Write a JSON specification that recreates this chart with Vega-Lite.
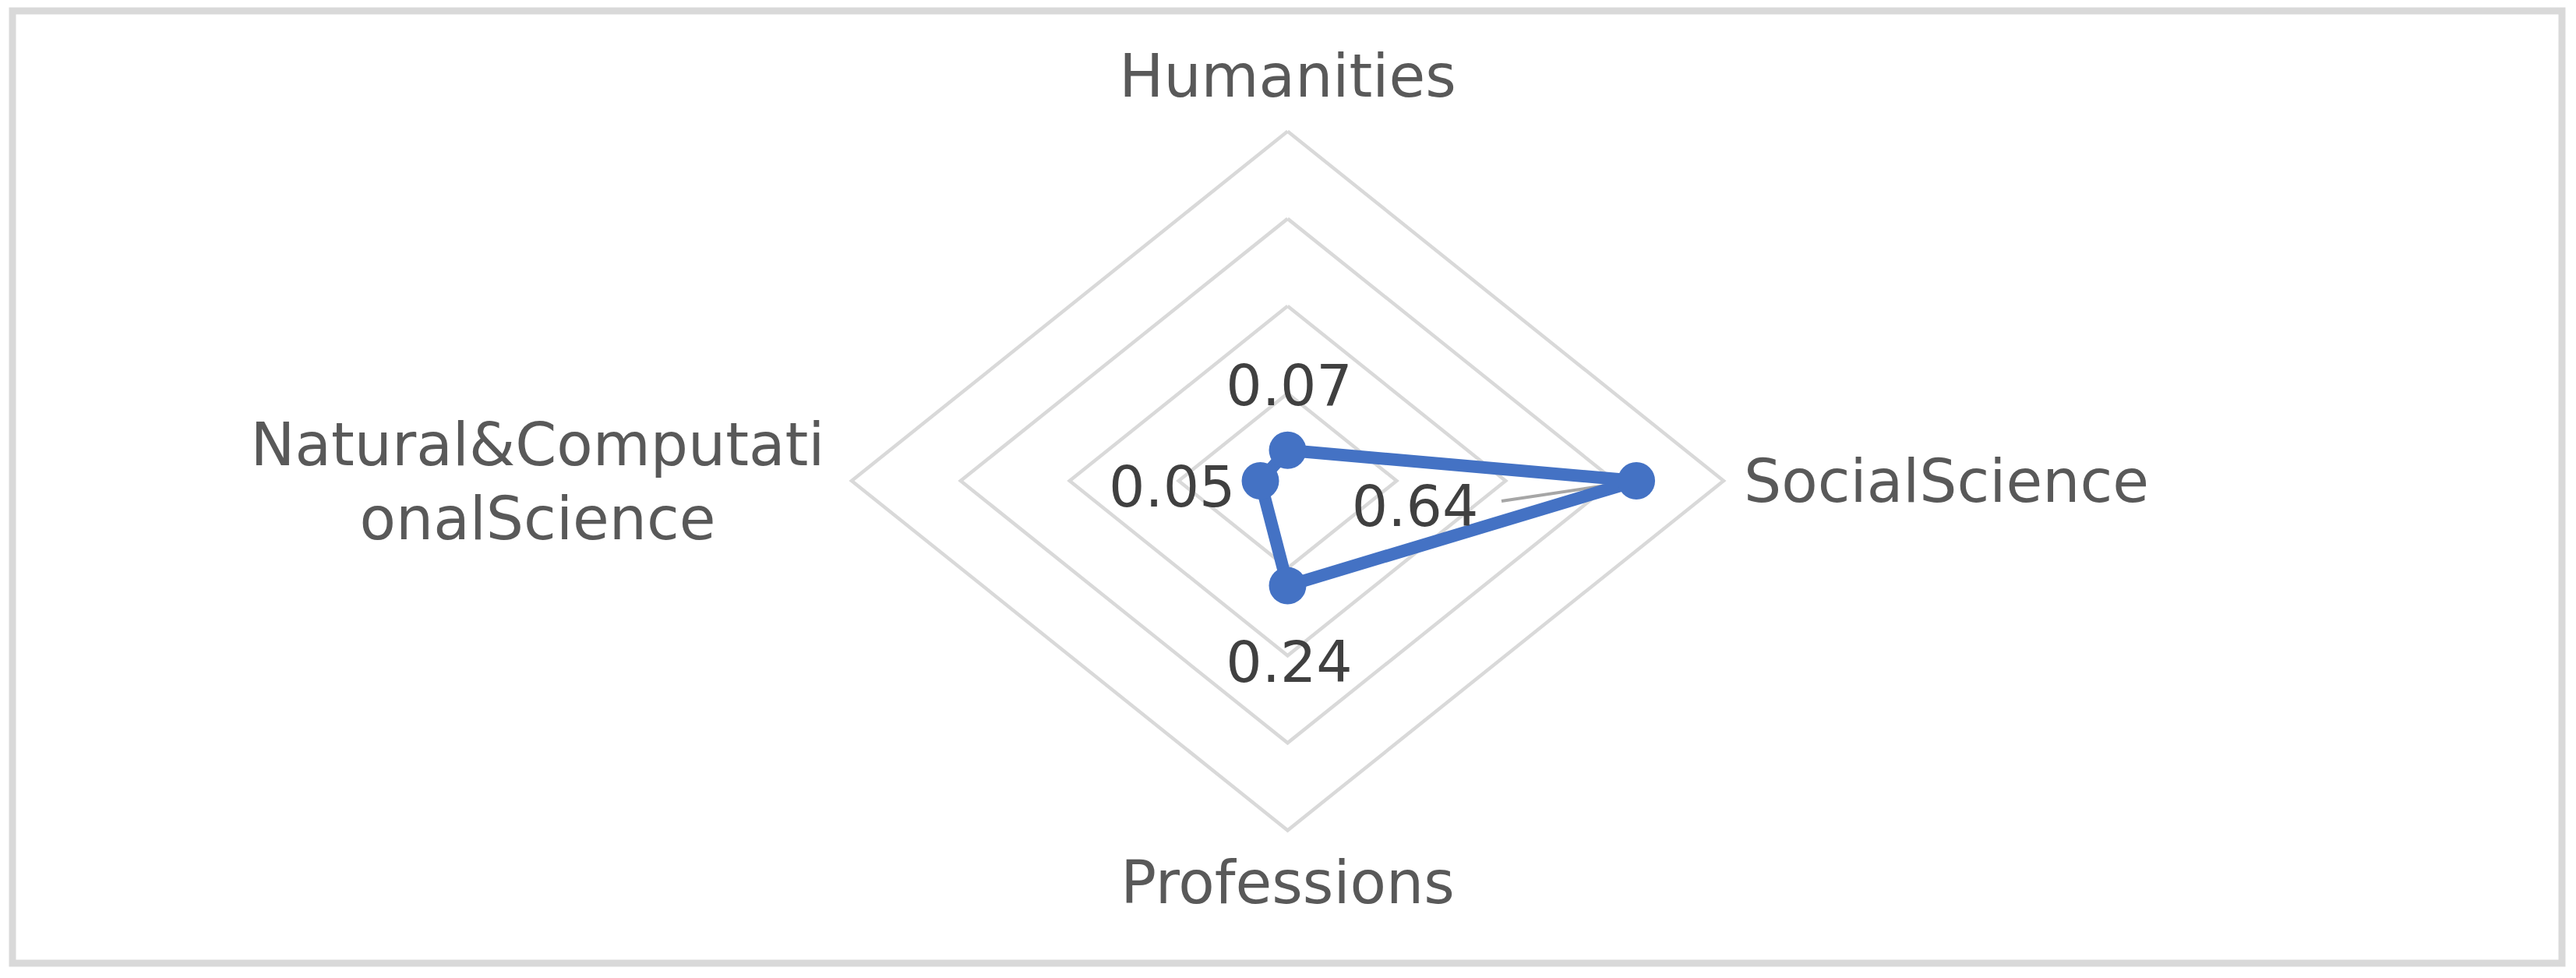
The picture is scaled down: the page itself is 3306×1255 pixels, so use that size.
{
  "$schema": "https://vega.github.io/schema/vega-lite/v6.json",
  "width": 3306,
  "height": 1255,
  "autosize": {"type": "fit", "contains": "padding"},
  "padding": {"left": 16, "top": 14, "right": 18, "bottom": 19},
  "background": "white",
  "config": {"view": {"stroke": "#d9d9d9", "strokeWidth": 9}},
  "datasets": {
    "series": [
      {"category": "Humanities", "value": 0.07, "order": 0},
      {"category": "SocialScience", "value": 0.64, "order": 1},
      {"category": "Professions", "value": 0.24, "order": 2},
      {"category": "Natural&ComputationalScience", "value": 0.05, "order": 3}
    ],
    "outline": [
      {"category": "Humanities", "value": 0.07, "order": 0},
      {"category": "SocialScience", "value": 0.64, "order": 1},
      {"category": "Professions", "value": 0.24, "order": 2},
      {"category": "Natural&ComputationalScience", "value": 0.05, "order": 3},
      {"category": "Humanities", "value": 0.07, "order": 4}
    ],
    "grid": [
      {"level": 0.2, "order": 0}, {"level": 0.2, "order": 1}, {"level": 0.2, "order": 2}, {"level": 0.2, "order": 3}, {"level": 0.2, "order": 4},
      {"level": 0.4, "order": 0}, {"level": 0.4, "order": 1}, {"level": 0.4, "order": 2}, {"level": 0.4, "order": 3}, {"level": 0.4, "order": 4},
      {"level": 0.6, "order": 0}, {"level": 0.6, "order": 1}, {"level": 0.6, "order": 2}, {"level": 0.6, "order": 3}, {"level": 0.6, "order": 4},
      {"level": 0.8, "order": 0}, {"level": 0.8, "order": 1}, {"level": 0.8, "order": 2}, {"level": 0.8, "order": 3}, {"level": 0.8, "order": 4}
    ],
    "axes": [
      {"category": "Humanities", "order": 0, "max": 0.8},
      {"category": "SocialScience", "order": 1, "max": 0.8},
      {"category": "Professions", "order": 2, "max": 0.8},
      {"category": "Natural&ComputationalScience", "order": 3, "max": 0.8}
    ]
  },
  "encoding": {
    "x": {"field": "px", "type": "quantitative", "scale": {"domain": [-2.33995, 2.33851], "nice": false, "zero": false}, "axis": null},
    "y": {"field": "py", "type": "quantitative", "scale": {"domain": [-1.10412, 1.07558], "nice": false, "zero": false}, "axis": null}
  },
  "layer": [
    {
      "data": {"name": "grid"},
      "transform": [
        {"calculate": "datum.level * sin(datum.order * PI / 2)", "as": "px"},
        {"calculate": "datum.level * cos(datum.order * PI / 2)", "as": "py"}
      ],
      "mark": {"type": "line", "color": "#d9d9d9", "strokeWidth": 4.5, "strokeJoin": "miter"},
      "encoding": {
        "detail": {"field": "level", "type": "nominal"},
        "order": {"field": "order", "type": "quantitative"}
      }
    },
    {
      "data": {"name": "series"},
      "transform": [
        {"filter": "datum.order == 1"},
        {"calculate": "datum.value * sin(datum.order * PI / 2)", "as": "px"},
        {"calculate": "datum.value * cos(datum.order * PI / 2)", "as": "py"}
      ],
      "mark": {"type": "rule", "color": "#a6a6a6", "strokeWidth": 4},
      "encoding": {
        "x2": {"datum": 0.3925},
        "y2": {"datum": -0.0464}
      }
    },
    {
      "data": {"name": "outline"},
      "transform": [
        {"calculate": "datum.value * sin(datum.order * PI / 2)", "as": "px"},
        {"calculate": "datum.value * cos(datum.order * PI / 2)", "as": "py"}
      ],
      "mark": {"type": "line", "color": "#4472C4", "strokeWidth": 16, "strokeJoin": "round"},
      "encoding": {
        "order": {"field": "order", "type": "quantitative"}
      }
    },
    {
      "data": {"name": "series"},
      "transform": [
        {"calculate": "datum.value * sin(datum.order * PI / 2)", "as": "px"},
        {"calculate": "datum.value * cos(datum.order * PI / 2)", "as": "py"}
      ],
      "mark": {"type": "point", "shape": "circle", "filled": true, "color": "#4472C4", "size": 2300, "opacity": 1}
    },
    {
      "data": {"name": "series"},
      "transform": [
        {"filter": "datum.order == 0"},
        {"calculate": "datum.value * sin(datum.order * PI / 2)", "as": "px"},
        {"calculate": "datum.value * cos(datum.order * PI / 2)", "as": "py"}
      ],
      "mark": {"type": "text", "font": "DejaVu Sans", "fontSize": 73, "color": "#404040", "align": "center", "baseline": "alphabetic", "dx": 2, "dy": -58},
      "encoding": {"text": {"field": "value", "type": "quantitative", "format": ".2f"}}
    },
    {
      "data": {"name": "series"},
      "transform": [
        {"filter": "datum.order == 1"},
        {"calculate": "datum.value * sin(datum.order * PI / 2)", "as": "px"},
        {"calculate": "datum.value * cos(datum.order * PI / 2)", "as": "py"}
      ],
      "mark": {"type": "text", "font": "DejaVu Sans", "fontSize": 73, "color": "#404040", "align": "center", "baseline": "alphabetic", "dx": -284, "dy": 58},
      "encoding": {"text": {"field": "value", "type": "quantitative", "format": ".2f"}}
    },
    {
      "data": {"name": "series"},
      "transform": [
        {"filter": "datum.order == 2"},
        {"calculate": "datum.value * sin(datum.order * PI / 2)", "as": "px"},
        {"calculate": "datum.value * cos(datum.order * PI / 2)", "as": "py"}
      ],
      "mark": {"type": "text", "font": "DejaVu Sans", "fontSize": 73, "color": "#404040", "align": "center", "baseline": "alphabetic", "dx": 2, "dy": 123},
      "encoding": {"text": {"field": "value", "type": "quantitative", "format": ".2f"}}
    },
    {
      "data": {"name": "series"},
      "transform": [
        {"filter": "datum.order == 3"},
        {"calculate": "datum.value * sin(datum.order * PI / 2)", "as": "px"},
        {"calculate": "datum.value * cos(datum.order * PI / 2)", "as": "py"}
      ],
      "mark": {"type": "text", "font": "DejaVu Sans", "fontSize": 73, "color": "#404040", "align": "right", "baseline": "alphabetic", "dx": -32, "dy": 33},
      "encoding": {"text": {"field": "value", "type": "quantitative", "format": ".2f"}}
    },
    {
      "data": {"name": "axes"},
      "transform": [
        {"filter": "datum.order == 0"},
        {"calculate": "datum.max * sin(datum.order * PI / 2)", "as": "px"},
        {"calculate": "datum.max * cos(datum.order * PI / 2)", "as": "py"}
      ],
      "mark": {"type": "text", "font": "DejaVu Sans", "fontSize": 76, "color": "#595959", "align": "center", "baseline": "alphabetic", "dy": -44},
      "encoding": {"text": {"field": "category", "type": "nominal"}}
    },
    {
      "data": {"name": "axes"},
      "transform": [
        {"filter": "datum.order == 1"},
        {"calculate": "datum.max * sin(datum.order * PI / 2)", "as": "px"},
        {"calculate": "datum.max * cos(datum.order * PI / 2)", "as": "py"}
      ],
      "mark": {"type": "text", "font": "DejaVu Sans", "fontSize": 76, "color": "#595959", "align": "left", "baseline": "alphabetic", "dx": 26, "dy": 27},
      "encoding": {"text": {"field": "category", "type": "nominal"}}
    },
    {
      "data": {"name": "axes"},
      "transform": [
        {"filter": "datum.order == 2"},
        {"calculate": "datum.max * sin(datum.order * PI / 2)", "as": "px"},
        {"calculate": "datum.max * cos(datum.order * PI / 2)", "as": "py"}
      ],
      "mark": {"type": "text", "font": "DejaVu Sans", "fontSize": 76, "color": "#595959", "align": "center", "baseline": "alphabetic", "dy": 93},
      "encoding": {"text": {"field": "category", "type": "nominal"}}
    },
    {
      "data": {"name": "axes"},
      "transform": [
        {"filter": "datum.order == 3"},
        {"calculate": "datum.max * sin(datum.order * PI / 2)", "as": "px"},
        {"calculate": "datum.max * cos(datum.order * PI / 2)", "as": "py"},
        {"calculate": "[substring(datum.category, 0, 17), substring(datum.category, 17)]", "as": "label"}
      ],
      "mark": {"type": "text", "font": "DejaVu Sans", "fontSize": 76, "color": "#595959", "align": "center", "baseline": "alphabetic", "dx": -403, "dy": -20, "lineHeight": 95},
      "encoding": {"text": {"field": "label", "type": "nominal"}}
    }
  ]
}
